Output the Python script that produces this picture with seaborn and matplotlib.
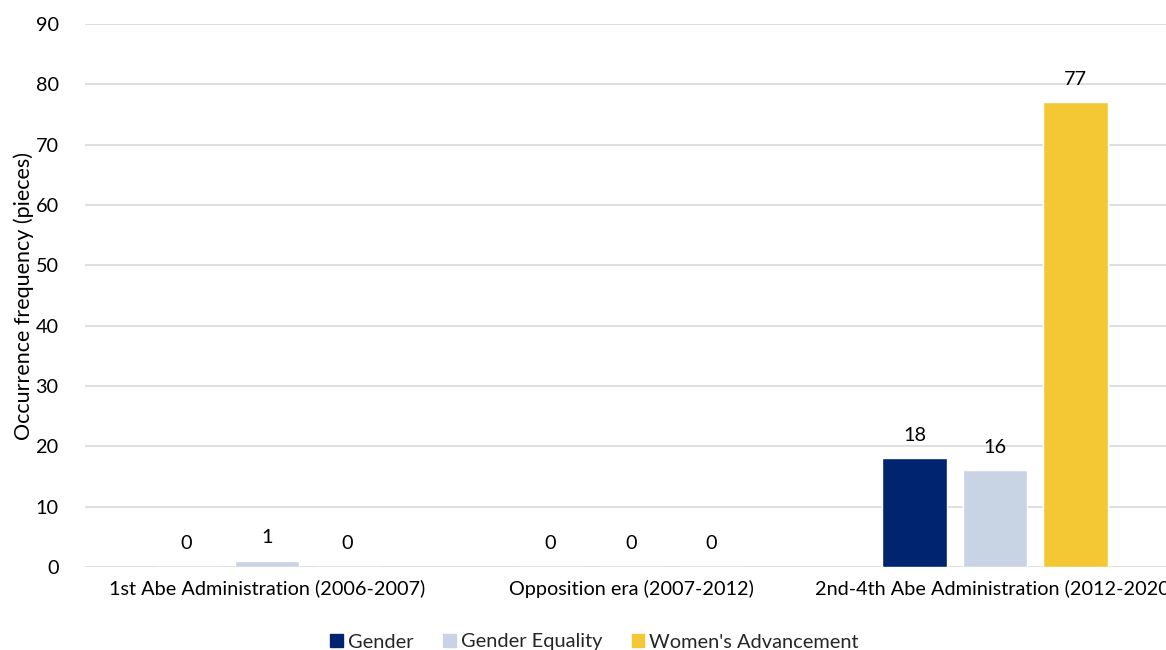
import matplotlib
matplotlib.use("Agg")
import matplotlib.pyplot as plt
import seaborn as sns
import pandas as pd

# Occurrence counts of each term by political period
periods = ["1st Abe Administration (2006-2007)",
           "Opposition era (2007-2012)",
           "2nd-4th Abe Administration (2012-2020)"]
terms = ["Gender", "Gender Equality", "Women's Advancement"]
gender = [0, 0, 18]
gender_equality = [1, 0, 16]
womens_advancement = [0, 0, 77]
y_ticks = [0, 10, 20, 30, 40, 50, 60, 70, 80, 90]

colors = ["#002470", "#C8D4E4", "#F4C734"]

df = pd.DataFrame({
    "period": periods * 3,
    "term": [terms[0]] * 3 + [terms[1]] * 3 + [terms[2]] * 3,
    "count": gender + gender_equality + womens_advancement,
})

sns.set_theme(style="white")
plt.rcParams["font.family"] = ["Lato", "DejaVu Sans"]

FS = 14.3
W, H = 1166, 650
fig = plt.figure(figsize=(W / 100, H / 100), dpi=100)
ax = fig.add_axes([85 / W, (H - 567) / H, 1092 / W, 543 / H])

sns.barplot(data=df, x="period", y="count", hue="term", order=periods,
            hue_order=terms, palette=colors, width=0.663, gap=0.2,
            saturation=1, ax=ax, legend=False, errorbar=None)

for cont in ax.containers:
    ax.bar_label(cont, fmt="%d", padding=10.5, fontsize=FS, color="#000000")

ax.set_ylim(0, 90)
ax.set_yticks(y_ticks)
ax.yaxis.grid(True, color="#D9D9D9", linewidth=1.2)
ax.set_axisbelow(True)
for s in ax.spines.values():
    s.set_visible(False)
ax.tick_params(axis="both", length=0, labelsize=FS, colors="#000000")
ax.tick_params(axis="y", pad=19)
ax.tick_params(axis="x", pad=9)
ax.set_xlabel("")
ax.set_ylabel("Occurrence frequency (pieces)", fontsize=15.5, color="#000000", labelpad=1)

handles = [plt.Rectangle((0, 0), 1, 1, color=c) for c in colors]
fig.legend(handles, terms, loc="center", bbox_to_anchor=(594.5 / W, 1 - 642 / H),
           ncol=3, frameon=False, fontsize=14.4, handlelength=0.62, handleheight=0.62,
           handletextpad=0.25, columnspacing=1.5)

fig.savefig("out.png", dpi=100)
